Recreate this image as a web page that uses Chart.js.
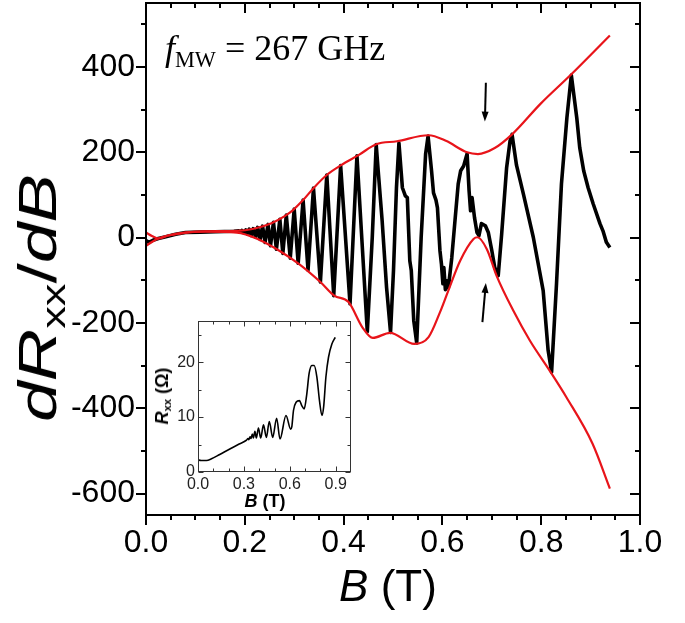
<!DOCTYPE html>
<html><head><meta charset="utf-8">
<script src="https://cdn.jsdelivr.net/npm/chart.js@4.4.0/dist/chart.umd.min.js"></script>
<style>
html,body{margin:0;padding:0;background:#fff;width:685px;height:623px;overflow:hidden;}
#wrap{position:relative;width:685px;height:623px;}
canvas{position:absolute;}
#main{left:0;top:0;width:685px;height:623px;}
#inset{left:140px;top:310px;width:230px;height:230px;}
.t{position:absolute;white-space:nowrap;color:#000;line-height:1;font-family:"Liberation Sans",Arial,sans-serif;}
.t sub{font-size:0.62em;vertical-align:baseline;position:relative;top:0.28em;}
#yt{left:37px;top:298px;font-size:54px;transform:translate(-50%,-50%) rotate(-90deg) scale(1.35,1);}
#xt{left:388px;top:586px;font-size:44px;transform:translate(-50%,-50%);}
#ann{left:165px;top:30px;font-family:"Liberation Serif","Times New Roman",serif;font-size:36px;}
#ann sub{font-size:0.62em;top:0.32em;}
#iyt{left:162px;top:396px;font-size:18px;font-weight:bold;transform:translate(-50%,-50%) rotate(-90deg);}
#ixt{left:265px;top:501px;font-size:18px;font-weight:bold;transform:translate(-50%,-50%);}
</style></head><body>
<div id="wrap">
<canvas id="main" width="685" height="623"></canvas>
<canvas id="inset" width="230" height="230"></canvas>
<div class="t" id="yt"><i>dR</i><sub>xx</sub>/<i>dB</i></div>
<div class="t" id="xt"><i>B</i> (T)</div>
<div class="t" id="ann"><i>f</i><sub>MW</sub> = 267 GHz</div>
<div class="t" id="iyt"><i>R</i><sub>xx</sub> (&Omega;)</div>
<div class="t" id="ixt"><i>B</i> (T)</div>
</div>
<script>
// ---------------- DATA ----------------
// main curve dRxx/dB vs B (T)
const curveB = [0.000,0.006,0.014,0.025,0.040,0.060,0.080,0.110,0.140,0.178,
0.188,0.191,0.194,0.198,0.202,0.205,0.209,0.213,0.217,0.222,0.226,0.231,0.236,0.241,0.247,0.252,0.258,0.264,0.271,0.277,0.284,0.292,0.300,0.308,0.318,0.328,0.339,0.353,0.366,0.380,0.394,0.413,0.427,0.448,0.458,0.466,0.470,0.478,0.487,0.495,0.501,0.507,0.512,0.519,0.525,0.529,0.534,0.537,0.542,0.548,0.557,0.566,0.571,0.578,0.582,0.587,0.590,0.595,0.598,0.601,0.603,0.606,0.609,0.612,0.619,0.626,0.632,0.637,0.643,0.646,0.650,0.654,0.657,0.660,0.665,0.670,0.674,0.679,0.687,0.693,0.700,0.706,0.713,0.720,0.730,0.737,0.741,0.750,0.764,0.784,0.804,0.814,0.821,0.831,0.841,0.852,0.861,0.872,0.878,0.886,0.895,0.905,0.919,0.925,0.932,0.939];
const curveV = [-7,-11,-6,-2,2,8,12,13,14,15,
16,13,17,11,18,9,20,5,21,1,24,-4,27,-11,31,-19,36,-27,43,-37,53,-48,67,-60,88,-76,116,-104,147,-136,169,-155,192,-220,0,218,157,40,-117,-222,-77,117,222,117,98,94,-54,-77,-194,-247,0,196,238,157,105,88,70,-30,-61,-108,-70,-122,-101,-118,-47,47,126,157,168,180,197,110,63,94,47,12,5,33,28,12,-30,-70,-89,9,164,227,242,170,102,1,-124,-264,-315,-108,126,281,381,281,211,157,117,80,33,16,-11,-23];
// upper envelope
const upperB = [0.000,0.012,0.025,0.045,0.080,0.120,0.184,0.218,0.254,0.280,0.297,0.318,0.339,0.367,0.395,0.431,0.466,0.508,0.572,0.607,0.650,0.672,0.706,0.741,0.798,0.861,0.939];
const upperV = [12,4,-2,5,12,15,16,21,34,50,64,88,116,148,170,194,219,226,240,227,200,196,210,242,313,383,474];
// lower envelope
const lowerB = [0.000,0.012,0.025,0.045,0.080,0.120,0.184,0.226,0.269,0.310,0.353,0.381,0.410,0.438,0.459,0.494,0.543,0.572,0.595,0.612,0.636,0.663,0.671,0.690,0.710,0.744,0.777,0.819,0.851,0.904,0.939];
const lowerV = [-19,-10,-2,5,12,14,12,-3,-30,-62,-104,-136,-151,-210,-235,-223,-249,-233,-175,-124,-54,-3,1,-27,-90,-172,-241,-315,-374,-483,-588];
// inset: Rxx (Ohm) vs B (T)
const insetB = [0.000,0.020,0.055,0.088,0.142,0.208,0.263,0.300,0.317,0.327,0.332,0.340,0.346,0.355,0.362,0.372,0.381,0.395,0.410,0.428,0.447,0.466,0.488,0.514,0.536,0.575,0.606,0.613,0.624,0.641,0.663,0.678,0.694,0.711,0.726,0.744,0.759,0.777,0.794,0.810,0.821,0.836,0.853,0.875,0.897];
const insetR = [2.2,2.1,2.1,2.4,3.2,4.2,5.0,5.5,5.8,6.1,5.9,6.4,6.1,6.9,6.2,7.4,6.2,8.0,6.2,8.6,6.3,9.2,6.3,9.8,6.0,10.3,7.8,8.2,11.2,12.7,13.0,12.1,11.5,14.2,17.9,19.4,19.4,17.3,13.0,10.3,11.8,17.3,20.9,23.3,24.5];
// ticks
const xTickLabels = [0.0,0.2,0.4,0.6,0.8,1.0];
const xMinorTicks = [0.05,0.1,0.15,0.25,0.3,0.35,0.45,0.5,0.55,0.65,0.7,0.75,0.85,0.9,0.95];
const yTickLabels = [-600,-400,-200,0,200,400];
const yMinorTicks = [-500,-300,-100,100,300,500];
const insetXTicks = [0.0,0.3,0.6,0.9];
const insetXMinor = [0.1,0.2,0.4,0.5,0.7,0.8];
const insetYTicks = [0,10,20];
const insetYMinor = [5,15,25];
// arrows (tail, head) in data units
const arrowDown = [[0.688,363],[0.686,272]];
const arrowUp = [[0.681,-198],[0.688,-106]];

// ---------------- HELPERS ----------------
const xy = (xs, ys) => xs.map((v, i) => ({x: v, y: ys[i]}));
const noPad = s => { s.paddingTop = 0; s.paddingBottom = 0; s.paddingLeft = 0; s.paddingRight = 0; };

const axisPlugin = {
  id: 'axisFrame',
  beforeDraw(chart, args, o) {
    if (!o.fill) return;
    const a = chart.chartArea, ctx = chart.ctx;
    ctx.save(); ctx.fillStyle = '#fff';
    ctx.fillRect(a.left, a.top, a.right - a.left, a.bottom - a.top);
    ctx.restore();
  },
  afterDraw(chart, args, o) {
    const {ctx, chartArea: a, scales: {x, y}} = chart;
    const off = o.lw % 2 ? 0.5 : 0;
    const L = a.left + off, R = a.right - off, T = a.top + off, B = a.bottom - off;
    ctx.save();
    ctx.strokeStyle = o.color; ctx.lineWidth = o.lw; ctx.lineCap = 'butt';
    const seg = (x1, y1, x2, y2) => { ctx.beginPath(); ctx.moveTo(x1, y1); ctx.lineTo(x2, y2); ctx.stroke(); };
    const lists = [[o.xMajor, o.maj], [o.xMinor, o.min]];
    for (const [vals, len] of lists) for (const v of vals) {
      const px = Math.round(x.getPixelForValue(v)) + off;
      seg(px, B, px, B + o.bottom * len);
      seg(px, T, px, T - o.top * len);
    }
    const ylists = [[o.yMajor, o.maj], [o.yMinor, o.min]];
    for (const [vals, len] of ylists) for (const v of vals) {
      const py = Math.round(y.getPixelForValue(v)) + off;
      seg(L, py, L - o.left * len, py);
      seg(R, py, R + o.right * len, py);
    }
    ctx.strokeRect(L, T, R - L, B - T);
    ctx.restore();
  }
};

const arrowPlugin = {
  id: 'arrows',
  afterDatasetsDraw(chart, args, o) {
    if (!o.list) return;
    const {ctx, scales: {x, y}} = chart;
    ctx.save(); ctx.strokeStyle = '#000'; ctx.fillStyle = '#000'; ctx.lineWidth = 2;
    for (const ar of o.list) {
      const x0 = x.getPixelForValue(ar[0][0]), y0 = y.getPixelForValue(ar[0][1]);
      const x1 = x.getPixelForValue(ar[1][0]), y1 = y.getPixelForValue(ar[1][1]);
      const ang = Math.atan2(y1 - y0, x1 - x0), c = Math.cos(ang), s = Math.sin(ang);
      const hl = 10, hw = 3.5;
      ctx.beginPath(); ctx.moveTo(x0, y0); ctx.lineTo(x1 - hl * 0.7 * c, y1 - hl * 0.7 * s); ctx.stroke();
      const bx = x1 - hl * c, by = y1 - hl * s;
      ctx.beginPath(); ctx.moveTo(x1, y1);
      ctx.lineTo(bx - hw * s, by + hw * c); ctx.lineTo(bx + hw * s, by - hw * c);
      ctx.closePath(); ctx.fill();
    }
    ctx.restore();
  }
};

Chart.register(axisPlugin, arrowPlugin);

// ---------------- MAIN CHART ----------------
new Chart(document.getElementById('main'), {
  type: 'scatter',
  data: { datasets: [
    { data: xy(upperB, upperV), showLine: true, borderColor: '#e8141a', borderWidth: 2.2, pointRadius: 0, cubicInterpolationMode: 'monotone', order: 0 },
    { data: xy(lowerB, lowerV), showLine: true, borderColor: '#e8141a', borderWidth: 2.2, pointRadius: 0, cubicInterpolationMode: 'monotone', order: 0 },
    { data: xy(curveB, curveV), showLine: true, borderColor: '#000', borderWidth: 3.6, pointRadius: 0, tension: 0, borderJoinStyle: 'round', order: 1 }
  ]},
  options: {
    responsive: false, animation: false, devicePixelRatio: 1,
    layout: { padding: { left: 0, right: 45, top: 3, bottom: 0 } },
    plugins: {
      legend: { display: false }, tooltip: { enabled: false },
      axisFrame: { color: '#000', lw: 2, maj: 10, min: 5, left: 1, bottom: 1, right: -1, top: -1,
        xMajor: xTickLabels, xMinor: xMinorTicks, yMajor: yTickLabels, yMinor: yMinorTicks },
      arrows: { list: [arrowDown, arrowUp] }
    },
    scales: {
      x: { type: 'linear', min: 0, max: 1.0,
        afterBuildTicks: s => { s.ticks = xTickLabels.map(v => ({ value: v })); },
        afterFit: s => { s.height = 108; noPad(s); },
        grid: { display: false, drawTicks: false }, border: { display: false },
        ticks: { autoSkip: false, maxRotation: 0, padding: 9, color: '#000',
          font: { family: 'Liberation Sans', size: 32 }, callback: v => Number(v).toFixed(1) } },
      y: { type: 'linear', min: -650, max: 550,
        afterBuildTicks: s => { s.ticks = yTickLabels.map(v => ({ value: v })); },
        afterFit: s => { s.width = 146; noPad(s); },
        grid: { display: false, drawTicks: false }, border: { display: false },
        ticks: { autoSkip: false, padding: 11, color: '#000',
          font: { family: 'Liberation Sans', size: 32 }, callback: v => String(v) } }
    }
  }
});

// ---------------- INSET ----------------
new Chart(document.getElementById('inset'), {
  type: 'scatter',
  data: { datasets: [
    { data: xy(insetB, insetR), showLine: true, borderColor: '#000', borderWidth: 1.6, pointRadius: 0, cubicInterpolationMode: 'monotone' }
  ]},
  options: {
    responsive: false, animation: false, devicePixelRatio: 1,
    layout: { padding: { left: 0, right: 19, top: 11, bottom: 0 } },
    plugins: {
      legend: { display: false }, tooltip: { enabled: false },
      axisFrame: { fill: true, color: '#333', lw: 1, maj: 5, min: 3, left: -1, bottom: -1, right: -1, top: -1,
        xMajor: insetXTicks, xMinor: insetXMinor, yMajor: insetYTicks, yMinor: insetYMinor },
      arrows: {}
    },
    scales: {
      x: { type: 'linear', min: 0, max: 1.0,
        afterBuildTicks: s => { s.ticks = insetXTicks.map(v => ({ value: v })); },
        afterFit: s => { s.height = 68; noPad(s); },
        grid: { display: false, drawTicks: false }, border: { display: false },
        ticks: { autoSkip: false, maxRotation: 0, padding: 3, color: '#222',
          font: { family: 'Liberation Sans', size: 16 }, callback: v => Number(v).toFixed(1) } },
      y: { type: 'linear', min: 0, max: 27.5,
        afterBuildTicks: s => { s.ticks = insetYTicks.map(v => ({ value: v })); },
        afterFit: s => { s.width = 58; noPad(s); },
        grid: { display: false, drawTicks: false }, border: { display: false },
        ticks: { autoSkip: false, padding: 3, color: '#222',
          font: { family: 'Liberation Sans', size: 16 }, callback: v => String(v) } }
    }
  }
});
</script>
</body></html>
